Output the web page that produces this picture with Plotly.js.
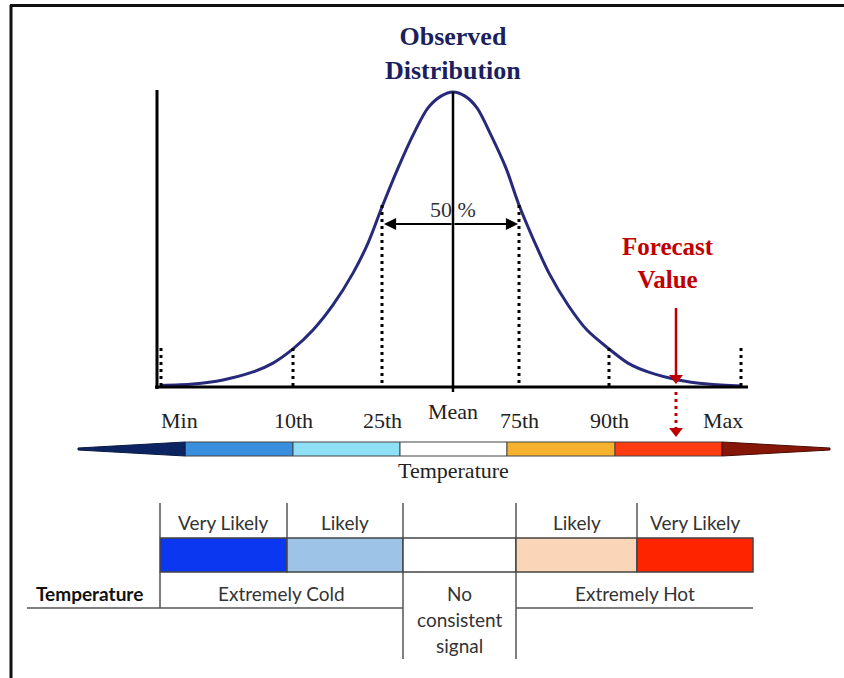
<!DOCTYPE html>
<html><head><meta charset="utf-8">
<script src="https://cdn.plot.ly/plotly-3.0.1.min.js"></script>
<style>html,body{margin:0;padding:0;background:#fff}#chart{width:844px;height:678px}</style>
</head><body><div id="chart"></div>
<script>
// ---------------- data ----------------
const quantileLabels = ['Min', '10th', '25th', 'Mean', '75th', '90th', 'Max'];
const quantileValues = [-2.92, -1.60, -0.71, 0, 0.66, 1.56, 2.88];   // temperature (std-dev units)
const quantileHeights = [0.132, 0.132, 0.617, 1.0, 0.617, 0.132, 0.132]; // relative density at marker top

const curveX = [-2.93, -2.6, -2.3, -2.0, -1.8, -1.6, -1.4, -1.2, -1.0, -0.85, -0.71, -0.55, -0.4, -0.25, -0.12, 0,
                0.12, 0.24, 0.38, 0.53, 0.66, 0.82, 0.96, 1.15, 1.34, 1.56, 1.75, 1.95, 2.25, 2.55, 2.89];
const curveY = [0.005, 0.010, 0.024, 0.051, 0.081, 0.129, 0.193, 0.278, 0.386, 0.488, 0.610, 0.742, 0.854, 0.946, 0.986, 1.0,
                0.986, 0.946, 0.854, 0.742, 0.617, 0.488, 0.386, 0.278, 0.193, 0.129, 0.081, 0.051, 0.024, 0.010, 0.003];

const spreadLabel = '50 %';
const forecastValue = 2.23;
const forecastLabel = 'Forecast<br>Value';
const titleText = 'Observed<br>Distribution';

const barEdges = [-3.75, -2.68, -1.60, -0.53, 0.54, 1.62, 2.69, 3.77];
const barColors = ['#0c2461', '#3a8ede', '#8fdff7', '#ffffff', '#f6b22f', '#ff3b12', '#861607'];
const barTitle = 'Temperature';

const tableEdges = [-2.93, -1.66, -0.50, 0.63, 1.84, 3.00];
const tableHeaders = ['Very Likely', 'Likely', '', 'Likely', 'Very Likely'];
const tableColors = ['#0a37ef', '#9dc3e6', '#ffffff', '#fbd5b7', '#ff2400'];
const rowLabel = 'Temperature';
const categoryLabels = ['Extremely Cold', 'No consistent signal', 'Extremely Hot'];

// ---------------- layout helpers ----------------
const X = px => (px - 453) / 100;   // page column -> axis value
const Y = py => (387 - py) / 295;   // page row -> axis value
const serif = 'Liberation Serif, Times New Roman, serif';
const sans = 'Lato, Open Sans, sans-serif';
const tfs = 19;

const shapes = [];
const annotations = [];
const traces = [];

// frame
shapes.push({type: 'line', x0: X(10), x1: X(844), y0: Y(5.5), y1: Y(5.5), line: {color: '#111', width: 3}});
shapes.push({type: 'line', x0: X(11), x1: X(11), y0: Y(5), y1: Y(678), line: {color: '#111', width: 3}});

// axes of the diagram
shapes.push({type: 'line', x0: X(157), x1: X(157), y0: Y(90), y1: Y(389), line: {color: '#000', width: 3}});
shapes.push({type: 'line', x0: X(155), x1: X(748), y0: 0, y1: 0, line: {color: '#000', width: 3}});

// quantile markers
quantileValues.forEach((q, i) => {
  const isMean = quantileLabels[i] === 'Mean';
  if (isMean) {
    shapes.push({type: 'line', x0: q, x1: q, y0: quantileHeights[i], y1: Y(392), line: {color: '#000', width: 2.5}});
  } else {
    shapes.push({type: 'line', x0: q, x1: q, y0: quantileHeights[i], y1: 0, line: {color: '#000', width: 3, dash: '3px,4px'}});
  }
  annotations.push({
    x: q, y: Y(isMean ? 411 : 420), text: quantileLabels[i], showarrow: false,
    xanchor: i === 0 ? 'left' : (i === quantileValues.length - 1 ? 'right' : 'center'),
    xshift: i === 0 ? -2 : (i === quantileValues.length - 1 ? 4 : 0),
    font: {family: serif, size: 22, color: '#222'}
  });
});

// observed distribution curve
traces.push({x: curveX, y: curveY, mode: 'lines', type: 'scatter', hoverinfo: 'skip',
  line: {color: '#272a7a', width: 3, shape: 'spline', smoothing: 0.8}});

// 50% double arrow
const i25 = quantileLabels.indexOf('25th'), i75 = quantileLabels.indexOf('75th');
[i25, i75].forEach(i => annotations.push({
  x: quantileValues[i] + (i === i25 ? 0.02 : -0.01), y: Y(224), ax: 0, ay: Y(224), axref: 'x', ayref: 'y',
  text: '', showarrow: true, arrowhead: 2, arrowsize: 1.1, arrowwidth: 2.2, arrowcolor: '#000', standoff: 0
}));
annotations.push({x: 0, y: Y(209), text: spreadLabel, showarrow: false, font: {family: serif, size: 22, color: '#333'}});

// title
annotations.push({x: 0, y: Y(53), text: titleText, showarrow: false,
  font: {family: serif, size: 26, color: '#1c1f5e', weight: 'bold'}});

// forecast arrow
const red = '#c00000';
shapes.push({type: 'line', x0: forecastValue, x1: forecastValue, y0: Y(308), y1: Y(378), line: {color: red, width: 2.5}});
shapes.push({type: 'line', x0: forecastValue, x1: forecastValue, y0: Y(392), y1: Y(428), line: {color: red, width: 3, dash: '3px,4px'}});
traces.push({x: [forecastValue, forecastValue], y: [Y(378), Y(431)], mode: 'markers', type: 'scatter', hoverinfo: 'skip',
  marker: {symbol: 'triangle-down', size: 12, color: red}});
annotations.push({x: X(668), y: Y(263), text: forecastLabel, showarrow: false,
  font: {family: serif, size: 25, color: red, weight: 'bold'}});

// temperature colour bar
const barTop = Y(442), barBot = Y(456);
for (let i = 1; i < barEdges.length - 2; i++) {
  shapes.push({type: 'rect', x0: barEdges[i], x1: barEdges[i + 1], y0: barBot, y1: barTop,
    fillcolor: barColors[i], line: {color: '#444', width: 1}});
}
shapes.push({type: 'path', path: `M ${barEdges[0]},${Y(448)} L ${barEdges[1]},${barTop} L ${barEdges[1]},${barBot} L ${barEdges[0]},${Y(450)} Z`,
  fillcolor: barColors[0], line: {color: '#0a1a40', width: 1}});
const n = barEdges.length;
shapes.push({type: 'path', path: `M ${barEdges[n - 2]},${barTop} L ${barEdges[n - 1]},${Y(448)} L ${barEdges[n - 1]},${Y(450)} L ${barEdges[n - 2]},${barBot} Z`,
  fillcolor: barColors[n - 2], line: {color: '#4a0b04', width: 1}});
annotations.push({x: 0, y: Y(470), text: barTitle, showarrow: false, font: {family: serif, size: 22, color: '#222'}});

// probability table
const tTop = Y(503), bTop = Y(538), bBot = Y(572), rowBot = Y(608), sigBot = Y(659);
const gline = {color: '#555', width: 1.5};
tableColors.forEach((c, i) => {
  shapes.push({type: 'rect', x0: tableEdges[i], x1: tableEdges[i + 1], y0: bBot, y1: bTop, fillcolor: c, line: {color: '#444', width: 1.5}});
  if (tableHeaders[i]) {
    annotations.push({x: (tableEdges[i] + tableEdges[i + 1]) / 2, y: Y(522), text: tableHeaders[i], showarrow: false,
      font: {family: sans, size: tfs, color: '#333'}});
  }
});
for (let i = 0; i < tableEdges.length - 1; i++) {
  shapes.push({type: 'line', x0: tableEdges[i], x1: tableEdges[i], y0: tTop, y1: bTop, line: gline});
}
shapes.push({type: 'line', x0: tableEdges[0], x1: tableEdges[0], y0: bBot, y1: rowBot, line: gline});
shapes.push({type: 'line', x0: tableEdges[2], x1: tableEdges[2], y0: bBot, y1: sigBot, line: gline});
shapes.push({type: 'line', x0: tableEdges[3], x1: tableEdges[3], y0: bBot, y1: sigBot, line: gline});
shapes.push({type: 'line', x0: X(27), x1: tableEdges[2], y0: rowBot, y1: rowBot, line: gline});
shapes.push({type: 'line', x0: tableEdges[3], x1: tableEdges[5], y0: rowBot, y1: rowBot, line: gline});

annotations.push({x: X(89), y: Y(593), text: rowLabel, showarrow: false, font: {family: sans, size: tfs, color: '#111', weight: 'bold'}});
annotations.push({x: (tableEdges[0] + tableEdges[2]) / 2, y: Y(593), text: categoryLabels[0], showarrow: false, font: {family: sans, size: tfs, color: '#333'}});
annotations.push({x: (tableEdges[3] + tableEdges[5]) / 2, y: Y(593), text: categoryLabels[2], showarrow: false, font: {family: sans, size: tfs, color: '#333'}});
const sigWords = categoryLabels[1].split(' ');
sigWords.forEach((w, k) => annotations.push({x: (tableEdges[2] + tableEdges[3]) / 2, y: Y(593 + 26 * k), text: w, showarrow: false,
  font: {family: sans, size: tfs, color: '#333'}}));

const layout = {
  width: 844, height: 678, margin: {l: 0, r: 0, t: 0, b: 0},
  paper_bgcolor: '#fff', plot_bgcolor: '#fff', showlegend: false,
  xaxis: {range: [X(0), X(844)], visible: false, fixedrange: true},
  yaxis: {range: [Y(678), Y(0)], visible: false, fixedrange: true},
  shapes, annotations
};
Plotly.newPlot('chart', traces, layout, {staticPlot: true});
</script></body></html>
